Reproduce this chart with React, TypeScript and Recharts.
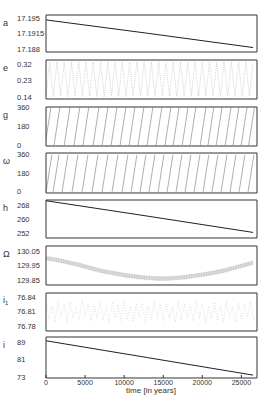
import { ComposedChart, Line, Area, XAxis, YAxis } from 'recharts';

// time axis (years)
const X_TICKS = [0, 5000, 10000, 15000, 20000, 25000];
const X_DOMAIN: [number, number] = [0, 27000];

// a, h, i: almost straight decreasing lines
const A_T = [0, 13000, 26500];
const A_V = [17.1946, 17.1916, 17.1884];
const H_T = [0, 13000, 26500];
const H_V = [270.4, 261.8, 252.7];
const I_T = [0, 13000, 26500];
const I_V = [89.5, 81.9, 74.0];

// e: fast oscillation, one value per stroke (sampled every E_STEP years)
const E_STEP = 465;
const E_V = [
  0.146, 0.334, 0.143, 0.336, 0.147, 0.333, 0.144, 0.335, 0.145, 0.337,
  0.142, 0.334, 0.146, 0.333, 0.144, 0.336, 0.143, 0.335, 0.147, 0.334,
  0.145, 0.336, 0.142, 0.333, 0.146, 0.335, 0.144, 0.337, 0.143, 0.334,
  0.145, 0.336, 0.147, 0.333, 0.144, 0.335, 0.142, 0.334, 0.146, 0.336,
  0.143, 0.335, 0.145, 0.333, 0.144, 0.337, 0.146, 0.334, 0.143, 0.335,
  0.145, 0.336, 0.144, 0.333, 0.142, 0.335, 0.146, 0.334,
];

// g and omega: circulating angles, centre time of each 0->360 sweep
const SWEEP_HALF = 370;
const G_SWEEPS = [
  250, 1400, 2700, 3950, 5100, 6400, 7550, 8700, 9850, 11000, 12150, 13300,
  14450, 15600, 16650, 17800, 18800, 20100, 21100, 22150, 23300, 24300, 25350, 26300,
];
const W_SWEEPS = [
  380, 1280, 2430, 3710, 4990, 6270, 7550, 8830, 10100, 11260, 12410, 13560,
  14720, 15870, 17020, 18170, 19320, 20470, 21620, 22780, 23930, 25080, 26230,
];

// Omega: band centre every 1000 years, plus band half-width
const OM_T = [
  0, 1000, 2000, 3000, 4000, 5000, 6000, 7000, 8000, 9000, 10000, 11000, 12000, 13000,
  14000, 15000, 16000, 17000, 18000, 19000, 20000, 21000, 22000, 23000, 24000, 25000, 26000, 26500,
];
const OM_V = [
  130.005, 129.995, 129.985, 129.972, 129.96, 129.945, 129.93, 129.915, 129.905, 129.895,
  129.885, 129.878, 129.87, 129.866, 129.862, 129.86, 129.862, 129.866, 129.872, 129.88,
  129.888, 129.897, 129.907, 129.92, 129.935, 129.95, 129.965, 129.972,
];
const OM_SPREAD = 0.013;

// i1: noisy cloud, sampled every I1_STEP years
const I1_STEP = 385;
const I1_V = [
  76.828, 76.795, 76.822, 76.79, 76.832, 76.799, 76.825, 76.788, 76.83, 76.797,
  76.819, 76.792, 76.834, 76.8, 76.826, 76.789, 76.823, 76.796, 76.831, 76.793,
  76.82, 76.787, 76.829, 76.798, 76.824, 76.791, 76.833, 76.795, 76.821, 76.79,
  76.827, 76.799, 76.83, 76.788, 76.822, 76.794, 76.832, 76.797, 76.825, 76.79,
  76.828, 76.796, 76.82, 76.789, 76.83, 76.793, 76.826, 76.798, 76.823, 76.791,
  76.833, 76.795, 76.827, 76.788, 76.821, 76.797, 76.829, 76.792, 76.824, 76.79,
  76.831, 76.796, 76.822, 76.789, 76.828, 76.794, 76.825, 76.799, 76.83, 76.792,
];

const FONT = '"Liberation Sans", Arial, Helvetica, sans-serif';
const INK = '#333';
const THIN = 0.01; // axes with zero size are not drawn at all

type Pt = { t: number; v: number | null };

const pairs = (ts: number[], vs: number[]): Pt[] => ts.map((t, i) => ({ t, v: vs[i] }));
const sampled = (step: number, vs: number[]): Pt[] => vs.map((v, i) => ({ t: i * step, v }));

function sweeps(mids: number[]): Pt[] {
  const out: Pt[] = [];
  mids.forEach((m) => {
    out.push({ t: m - SWEEP_HALF, v: 0 });
    out.push({ t: m + SWEEP_HALF, v: 360 });
    out.push({ t: m + SWEEP_HALF, v: null });
  });
  return out;
}

function minorTicks(domain: [number, number], major: number[], parts: number) {
  const step = (major[1] - major[0]) / parts;
  const out: number[] = [];
  let v = major[0];
  while (v - step >= domain[0] - 1e-9) v -= step;
  for (; v <= domain[1] + 1e-9; v += step) out.push(+v.toFixed(6));
  return out;
}

interface Panel {
  name: React.ReactNode;
  top: number;
  h: number;
  domain: [number, number];
  ticks: number[];
  series: React.ReactNode;
  last?: boolean;
}

const line = (data: Pt[], extra: Record<string, unknown> = {}) => (
  <Line
    data={data}
    dataKey="v"
    xAxisId="b"
    yAxisId="l"
    type="linear"
    dot={false}
    stroke="#241c2a"
    strokeWidth={1}
    isAnimationActive={false}
    {...extra}
  />
);

const PANELS: Panel[] = [
  { name: 'a', top: 15, h: 37, domain: [17.1874, 17.1957], ticks: [17.188, 17.1915, 17.195], series: line(pairs(A_T, A_V)) },
  {
    name: 'e', top: 60, h: 39, domain: [0.13, 0.345], ticks: [0.14, 0.23, 0.32],
    series: line(sampled(E_STEP, E_V), { stroke: '#b4b4b4', strokeWidth: 0.6, strokeDasharray: '1 1.2' }),
  },
  {
    name: 'g', top: 107, h: 39, domain: [-8, 364], ticks: [0, 180, 360],
    series: line(sweeps(G_SWEEPS), { stroke: '#777', strokeWidth: 0.6 }),
  },
  {
    name: '\u03c9', top: 153, h: 40, domain: [-12, 378], ticks: [0, 180, 360],
    series: line(sweeps(W_SWEEPS), { stroke: '#777', strokeWidth: 0.6 }),
  },
  { name: 'h', top: 200, h: 38, domain: [249.6, 270.8], ticks: [252, 260, 268], series: line(pairs(H_T, H_V)) },
  {
    name: '\u03a9', top: 246, h: 39, domain: [129.815, 130.09], ticks: [129.85, 129.95, 130.05],
    series: (
      <Area
        data={OM_T.map((t, i) => ({ t, r: [OM_V[i] - OM_SPREAD, OM_V[i] + OM_SPREAD] }))}
        dataKey="r"
        xAxisId="b"
        yAxisId="l"
        type="linear"
        stroke="#aaa"
        strokeWidth={0.7}
        strokeDasharray="1 1.5"
        fill="#d6d6d6"
        fillOpacity={1}
        dot={false}
        isAnimationActive={false}
      />
    ),
  },
  {
    name: <span>i<sub style={{ fontSize: 6 }}>1</sub></span>, top: 293, h: 38, domain: [76.771, 76.848], ticks: [76.78, 76.81, 76.84],
    series: line(sampled(I1_STEP, I1_V), { stroke: '#bdbdbd', strokeWidth: 0.6, strokeDasharray: '0.8 1.8' }),
  },
  { name: 'i', top: 337, h: 41, domain: [72.7, 91.2], ticks: [73, 81, 89], series: line(pairs(I_T, I_V)), last: true },
];

const PAD = 6;

const LeftLabel = (props: any) => (
  <text x={17} y={props.y} dy="0.35em" fontSize={7.5} fill="#333" textAnchor="start" fontFamily={FONT}>
    {props.payload.value}
  </text>
);

const BottomLabel = (props: any) => (
  <text x={props.x} y={props.y} dy="0.35em" fontSize={7} fill="#333" textAnchor="middle" fontFamily={FONT}>
    {props.payload.value}
  </text>
);

function PanelChart({ p }: { p: Panel }) {
  const bottomPad = p.last ? 28 : PAD;
  const minors = minorTicks(p.domain, p.ticks, 4);
  return (
    <div style={{ position: 'absolute', left: 0, top: p.top - PAD }}>
      <ComposedChart width={273} height={p.h + PAD + bottomPad} margin={{ top: PAD, bottom: bottomPad, left: 46, right: 16 }}>
        <XAxis
          xAxisId="b"
          dataKey="t"
          type="number"
          domain={X_DOMAIN}
          ticks={X_TICKS}
          interval={0}
          allowDataOverflow
          height={THIN}
          orientation="bottom"
          stroke={INK}
          tickSize={-3}
          tickMargin={p.last ? 7.5 : 0}
          tick={p.last ? BottomLabel : false}
        />
        <XAxis
          xAxisId="t"
          dataKey="t"
          type="number"
          domain={X_DOMAIN}
          ticks={X_TICKS}
          interval={0}
          height={THIN}
          orientation="top"
          stroke={INK}
          tickSize={-3}
          tick={false}
        />
        <YAxis
          yAxisId="l"
          type="number"
          domain={p.domain}
          ticks={p.ticks}
          interval={0}
          allowDataOverflow
          width={THIN}
          orientation="left"
          axisLine={false}
          tickLine={false}
          tick={LeftLabel}
        />
        <YAxis
          yAxisId="lm"
          type="number"
          domain={p.domain}
          ticks={minors}
          interval={0}
          allowDataOverflow
          width={THIN}
          orientation="left"
          stroke={INK}
          tickSize={-2}
          tick={false}
        />
        <YAxis
          yAxisId="r"
          type="number"
          domain={p.domain}
          ticks={minors}
          interval={0}
          allowDataOverflow
          width={THIN}
          orientation="right"
          stroke={INK}
          tickSize={-2}
          tick={false}
        />
        {p.series}
      </ComposedChart>
      <div
        style={{
          position: 'absolute',
          left: 3,
          top: PAD + 8,
          transform: 'translateY(-50%)',
          fontSize: 9,
          lineHeight: 1,
          color: '#333',
          fontFamily: FONT,
        }}
      >
        {p.name}
      </div>
    </div>
  );
}

export default function App() {
  return (
    <div style={{ position: 'absolute', left: 0, top: 0, width: 273, height: 406, background: '#fff', fontFamily: FONT }}>
      {PANELS.map((p, i) => (
        <PanelChart key={i} p={p} />
      ))}
      <div
        style={{
          position: 'absolute',
          left: 151,
          top: 391,
          transform: 'translate(-50%, -50%)',
          fontSize: 8,
          lineHeight: 1,
          color: '#333',
          whiteSpace: 'nowrap',
          fontFamily: FONT,
        }}
      >
        time [in years]
      </div>
    </div>
  );
}
